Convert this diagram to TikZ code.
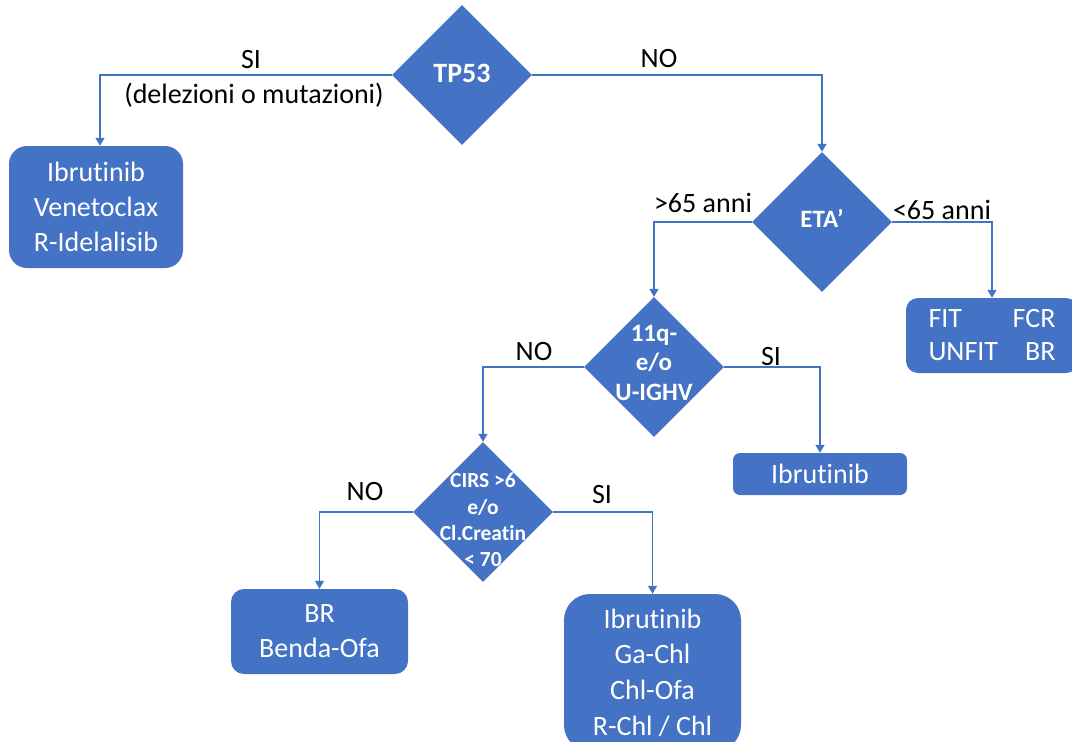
\documentclass[tikz,border=0pt]{standalone}
\usepackage{fontspec}
\setmainfont{Carlito}[Ligatures=NoCommon]
\usetikzlibrary{shapes.geometric,arrows.meta}
\definecolor{ppblue}{HTML}{4472C4}
\begin{document}
\begin{tikzpicture}[x=1pt,y=-1pt,
    choice/.style={diamond,fill=ppblue,inner sep=0pt,minimum width=140pt,minimum height=140pt},
    qtext/.style={text=white,align=center,font=\bfseries\fontsize{25}{29.5}\selectfont},
    therapy/.style={rectangle,fill=ppblue,text=white,align=center,inner sep=0pt,font=\fontsize{28}{35}\selectfont},
    lbl/.style={inner sep=0pt,font=\fontsize{28}{34}\selectfont},
    link/.style={draw=ppblue,line width=1.3pt,-{Triangle[width=9pt,length=8pt]}}]
  \clip (0,0) rectangle (1072,742);
  \node[choice,label={[qtext,font=\bfseries\fontsize{28}{34}\selectfont,yshift=2pt]center:TP53}] (tp) at (462,75) {};
  \node[choice,label={[qtext,yshift=4pt]center:ETA’}] (eta) at (822,222) {};
  \node[choice,label={[qtext,yshift=4.5pt]center:{11q-\\e/o\\U-IGHV}}] (q11) at (654,367) {};
  \node[choice,label={[qtext,font=\bfseries\fontsize{21.5}{26.3}\selectfont,yshift=-8pt]center:{CIRS >6\\e/o\\Cl.Creatin\\< 70}}] (cirs) at (483,512) {};
  \begin{scope}[every node/.append style={therapy}]
    \node[minimum width=174pt,minimum height=122pt,rounded corners=18pt] (ibr1) at (96,207) {Ibrutinib\\Venetoclax\\R-Idelalisib};
    \node[minimum width=172pt,minimum height=75pt,rounded corners=12pt,font=\fontsize{28}{33}\selectfont] (fit) at (992,335.5) {\makebox[127pt]{FIT\hfill FCR}\\\makebox[127pt]{UNFIT\hfill BR}};
    \node[minimum width=174pt,minimum height=42pt,rounded corners=7pt] (ibr2) at (820,474) {Ibrutinib};
    \node[minimum width=177pt,minimum height=85pt,rounded corners=13pt] (br) at (319.5,631.5) {BR\\Benda-Ofa};
    \node[minimum width=177pt,minimum height=157pt,rounded corners=26pt,font=\fontsize{28}{35.7}\selectfont] (chl) at (652.5,672.5) {Ibrutinib\\Ga-Chl\\Chl-Ofa\\R-Chl / Chl};
  \end{scope}
  \draw[link] (tp.west) -| ([xshift=4pt]ibr1.north);
  \draw[link] (tp.east) -| (eta.north);
  \draw[link] (eta.west) -| (q11.north);
  \draw[link] (eta.east) -| (fit.north);
  \draw[link] (q11.west) -| (cirs.north);
  \draw[link] (q11.east) -| (ibr2.north);
  \draw[link] (cirs.west) -| (br.north);
  \draw[link] (cirs.east) -| (chl.north);
  \node[lbl] (si1) at (251,60) {SI};
  \node[lbl] (mut) at (254,95) {(delezioni o mutazioni)};
  \node[lbl] (no1) at (659,59) {NO};
  \node[lbl] (old) at (703,203) {>65 anni};
  \node[lbl] (young) at (942,210) {<65 anni};
  \node[lbl] (no2) at (534,352) {NO};
  \node[lbl] (si2) at (771,357) {SI};
  \node[lbl] (no3) at (365,492) {NO};
  \node[lbl] (si3) at (602,495) {SI};
\end{tikzpicture}
\end{document}
